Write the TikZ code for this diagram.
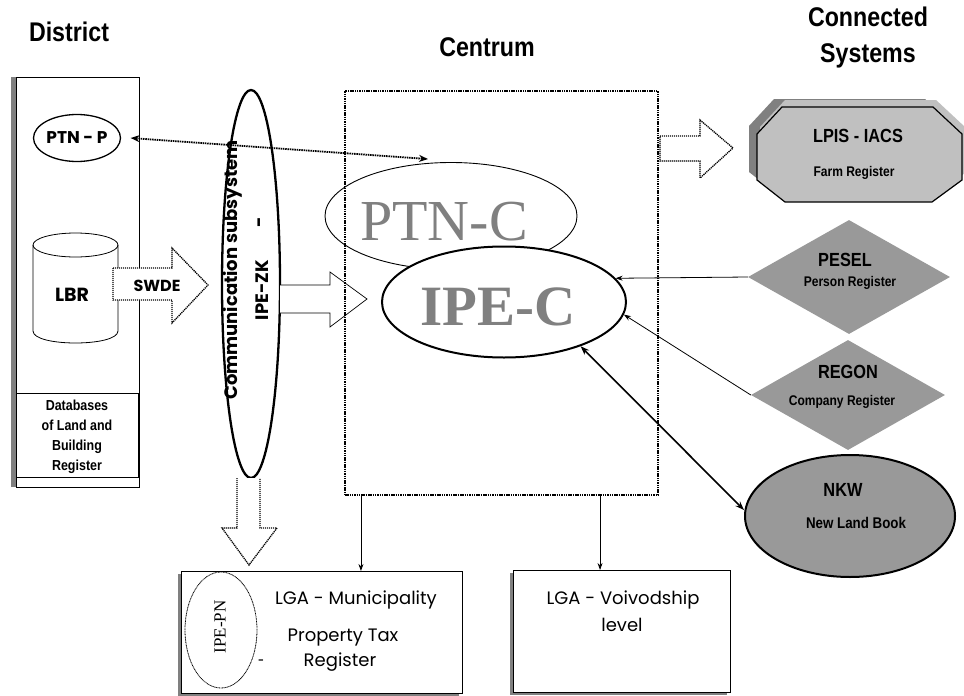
\documentclass[tikz,border=0pt]{standalone}
\usepackage{fontspec}
\setmainfont{Liberation Sans}
\newfontfamily\arn{Liberation Sans}[FakeStretch=0.86]
\newfontfamily\goth{Poppins}
\newfontfamily\tms{Liberation Serif}
\usetikzlibrary{shapes.geometric,arrows.meta}
\newcommand\fsz[2]{\fontsize{#1}{#2}\selectfont}
\definecolor{gA}{HTML}{808080}
\definecolor{gB}{HTML}{999999}
\definecolor{gC}{HTML}{C0C0C0}
\begin{document}
\begin{tikzpicture}[x=1pt,y=-1pt,
  hdr/.style={font=\arn\bfseries\fsz{27}{36}, align=center, inner sep=0},
  lab/.style={font=\arn\bfseries\fsz{14.5}{20}, align=center, inner sep=0},
  big/.style={font=\arn\bfseries\fsz{19}{22}, inner sep=0},
  sml/.style={font=\arn\bfseries\fsz{14}{16}, inner sep=0},
  gb/.style={font=\goth\bfseries\fsz{18}{20}, inner sep=0},
  gr/.style={font=\goth\fsz{18}{20}, inner sep=0},
  tarr/.style={-{Stealth[length=7pt,width=5pt]}, line width=0.8pt},
  dotbox/.style={line width=2.1pt, dash pattern=on 1.5pt off 0.8pt},
  dotarr/.style={line width=1.3pt, dash pattern=on 1.2pt off 0.8pt},
]
\useasboundingbox (0,0) rectangle (964,696);
\fill[white] (0,0) rectangle (964,696);

% headers
\node[hdr] (hdist) at (69,32) {District};
\node[hdr] (hcent) at (487,47) {Centrum};
\node[hdr] (hconn) at (868,38) {Connected\\Systems};

% district panel
\fill[gA] (11,77) rectangle (16,487);
\node[draw, line width=0.8pt, minimum width=123, minimum height=410, anchor=north west, inner sep=0] (dist) at (16,77) {};
\node[draw, line width=0.8pt, minimum width=122, minimum height=84, anchor=north west, inner sep=0] (dbbox) at (16,393) {};
\node[lab] (dbtext) at (77,437) {Databases\\of Land and\\Building\\Register};

\node[ellipse, draw, line width=1.3pt, minimum width=87, minimum height=47, inner sep=0] (ptnp) at (77,138) {};
\node[gb, font=\goth\bfseries\fsz{17}{20}] (ptnptxt) at (77,138) {PTN - P};

% cylinder LBR
\draw[line width=0.8pt, fill=white] (33,245) -- (33,331) .. controls (33,347) and (118,347) .. (118,331) -- (118,245);
\draw[line width=0.8pt] (75.5,245) ellipse [x radius=42.5, y radius=12];
\node[gb, font=\goth\bfseries\fsz{19}{20}] (lbr) at (72,295) {LBR};

% SWDE arrow
\draw[dotarr, fill=white] (113,268) -- (172,268) -- (172,248) -- (208,285) -- (172,323) -- (172,300) -- (113,300) -- cycle;
\node[gb, font=\goth\bfseries\fsz{16}{20}] (swde) at (157,286) {SWDE};

% communication subsystem
\node[ellipse, draw, line width=2.3pt, minimum width=58, minimum height=388, inner sep=0] (comm) at (251,284) {};
\node[gb, rotate=90] (commtxt) at (233,270) {Communication subsystem};
\node[gb, rotate=90] (ipezk) at (262,290) {IPE-ZK};
\node[gb, rotate=90] (dash1) at (262,222) {-};

% block arrow to IPE-C
\draw[line width=0.7pt, fill=white] (280,285) -- (330,285) -- (330,272) -- (367,299) -- (330,327) -- (330,313) -- (280,313);

% down block arrow to IPE-PN
\draw[dotarr, fill=white] (237,478) -- (237,528) -- (222,528) -- (249,565) -- (277,528) -- (260,528) -- (260,478);

% centrum
\node[draw, dotbox, minimum width=313, minimum height=404, inner sep=0] (cent) at (501.5,293) {};
\node[ellipse, draw, line width=0.9pt, minimum width=252, minimum height=107, inner sep=0] (ptnc) at (451,216) {};
\node[ellipse, draw, fill=white, line width=2pt, minimum width=244, minimum height=111, inner sep=0] (ipec) at (504,302) {};
\node[inner sep=0, text=gA, font=\tms\fsz{58}{60}] (ptnctxt) at (444,222) {PTN-C};
\node[inner sep=0, text=gA, font=\tms\bfseries\fsz{57}{60}] (ipectxt) at (498,307) {IPE-C};

% PTN-P <-> PTN-C
\draw[dotbox, line width=1.8pt, {Stealth[length=9pt,width=7pt]}-{Stealth[length=9pt,width=7pt]}] ([xshift=9.5pt]ptnp.east) -- ([xshift=-23pt,yshift=3pt]ptnc.north);

% LPIS arrow
\draw[dotarr, fill=white] (660,136) -- (700,136) -- (700,120) -- (733,148) -- (700,178) -- (700,161) -- (660,161) -- cycle;

% LPIS octagon
\fill[gA] (774,99) -- (925,99) -- (954,126) -- (954,172) -- (924,194) -- (777,194) -- (749,172) -- (749,126) -- cycle;
\fill[gC] (785,100) -- (936,100) -- (965,127) -- (965,173) -- (935,195) -- (788,195) -- (760,173) -- (760,127) -- cycle;
\draw[fill=gC, line width=1.2pt] (782,107) -- (933,107) -- (962,134) -- (962,180) -- (932,202) -- (785,202) -- (757,180) -- (757,134) -- cycle;
\node[big] (lpis) at (858,136) {LPIS - IACS};
\node[sml] (farm) at (854,173) {Farm Register};

% PESEL, REGON
\node[diamond, fill=gB, minimum width=202, minimum height=114, inner sep=0] (pesel) at (849,277) {};
\node[big] (peseltxt) at (845,260) {PESEL};
\node[sml] (persreg) at (850,283) {Person Register};
\node[diamond, fill=gB, minimum width=194, minimum height=110, inner sep=0] (regon) at (848,395) {};
\node[big] (regontxt) at (848,372) {REGON};
\node[sml] (compreg) at (842,402) {Company Register};

% NKW
\node[ellipse, draw, fill=gB, line width=2pt, minimum width=210, minimum height=122, inner sep=0] (nkw) at (850,516) {};
\node[big] (nkwtxt) at (843,490) {NKW};
\node[sml, font=\arn\bfseries\fsz{15.5}{18}] (nlb) at (856,523) {New Land Book};

% connectors to IPE-C
\draw[tarr] (pesel.west) -- (ipec.12);
\draw[tarr] (regon.west) -- (ipec.-6);
\draw[line width=1.6pt, {Stealth[length=9pt,width=6.5pt]}-{Stealth[length=9pt,width=6.5pt]}] (ipec.-30) -- ([yshift=6pt]nkw.west);

% LGA boxes
\fill[gA] (178,574) rectangle (459,696);
\node[draw, fill=white, line width=0.9pt, minimum width=281, minimum height=122, anchor=north west, inner sep=0] (lgam) at (181,571) {};
\fill[gA] (510,573) rectangle (727,695);
\node[draw, fill=white, line width=0.9pt, minimum width=217, minimum height=122, anchor=north west, inner sep=0] (lgav) at (513,570) {};

\node[ellipse, draw, line width=0.8pt, dash pattern=on 1pt off 0.6pt, minimum width=72, minimum height=116, inner sep=0] (ipepn) at (221,630) {};
\node[inner sep=0, rotate=90, font=\tms\fsz{17}{20}] (ipepntxt) at (220,627) {IPE-PN};
\node[inner sep=0, font=\tms\fsz{17}{20}] (dash2) at (261,662) {-};

\node[gr] (lgamt1) at (356,600) {LGA - Municipality};
\node[gr] (lgamt2) at (343,638) {Property Tax};
\node[gr] (lgamt3) at (340,662) {Register};
\node[gr] (lgavt1) at (623,600) {LGA - Voivodship};
\node[gr] (lgavt2) at (622,625) {level};

% down arrows from centrum
\draw[tarr] ([xshift=17pt]cent.south west) -- ([xshift=17pt]cent.south west |- lgam.north);
\draw[tarr] ([xshift=-59pt]cent.south east) -- ([xshift=-59pt]cent.south east |- lgav.north);
\end{tikzpicture}
\end{document}
